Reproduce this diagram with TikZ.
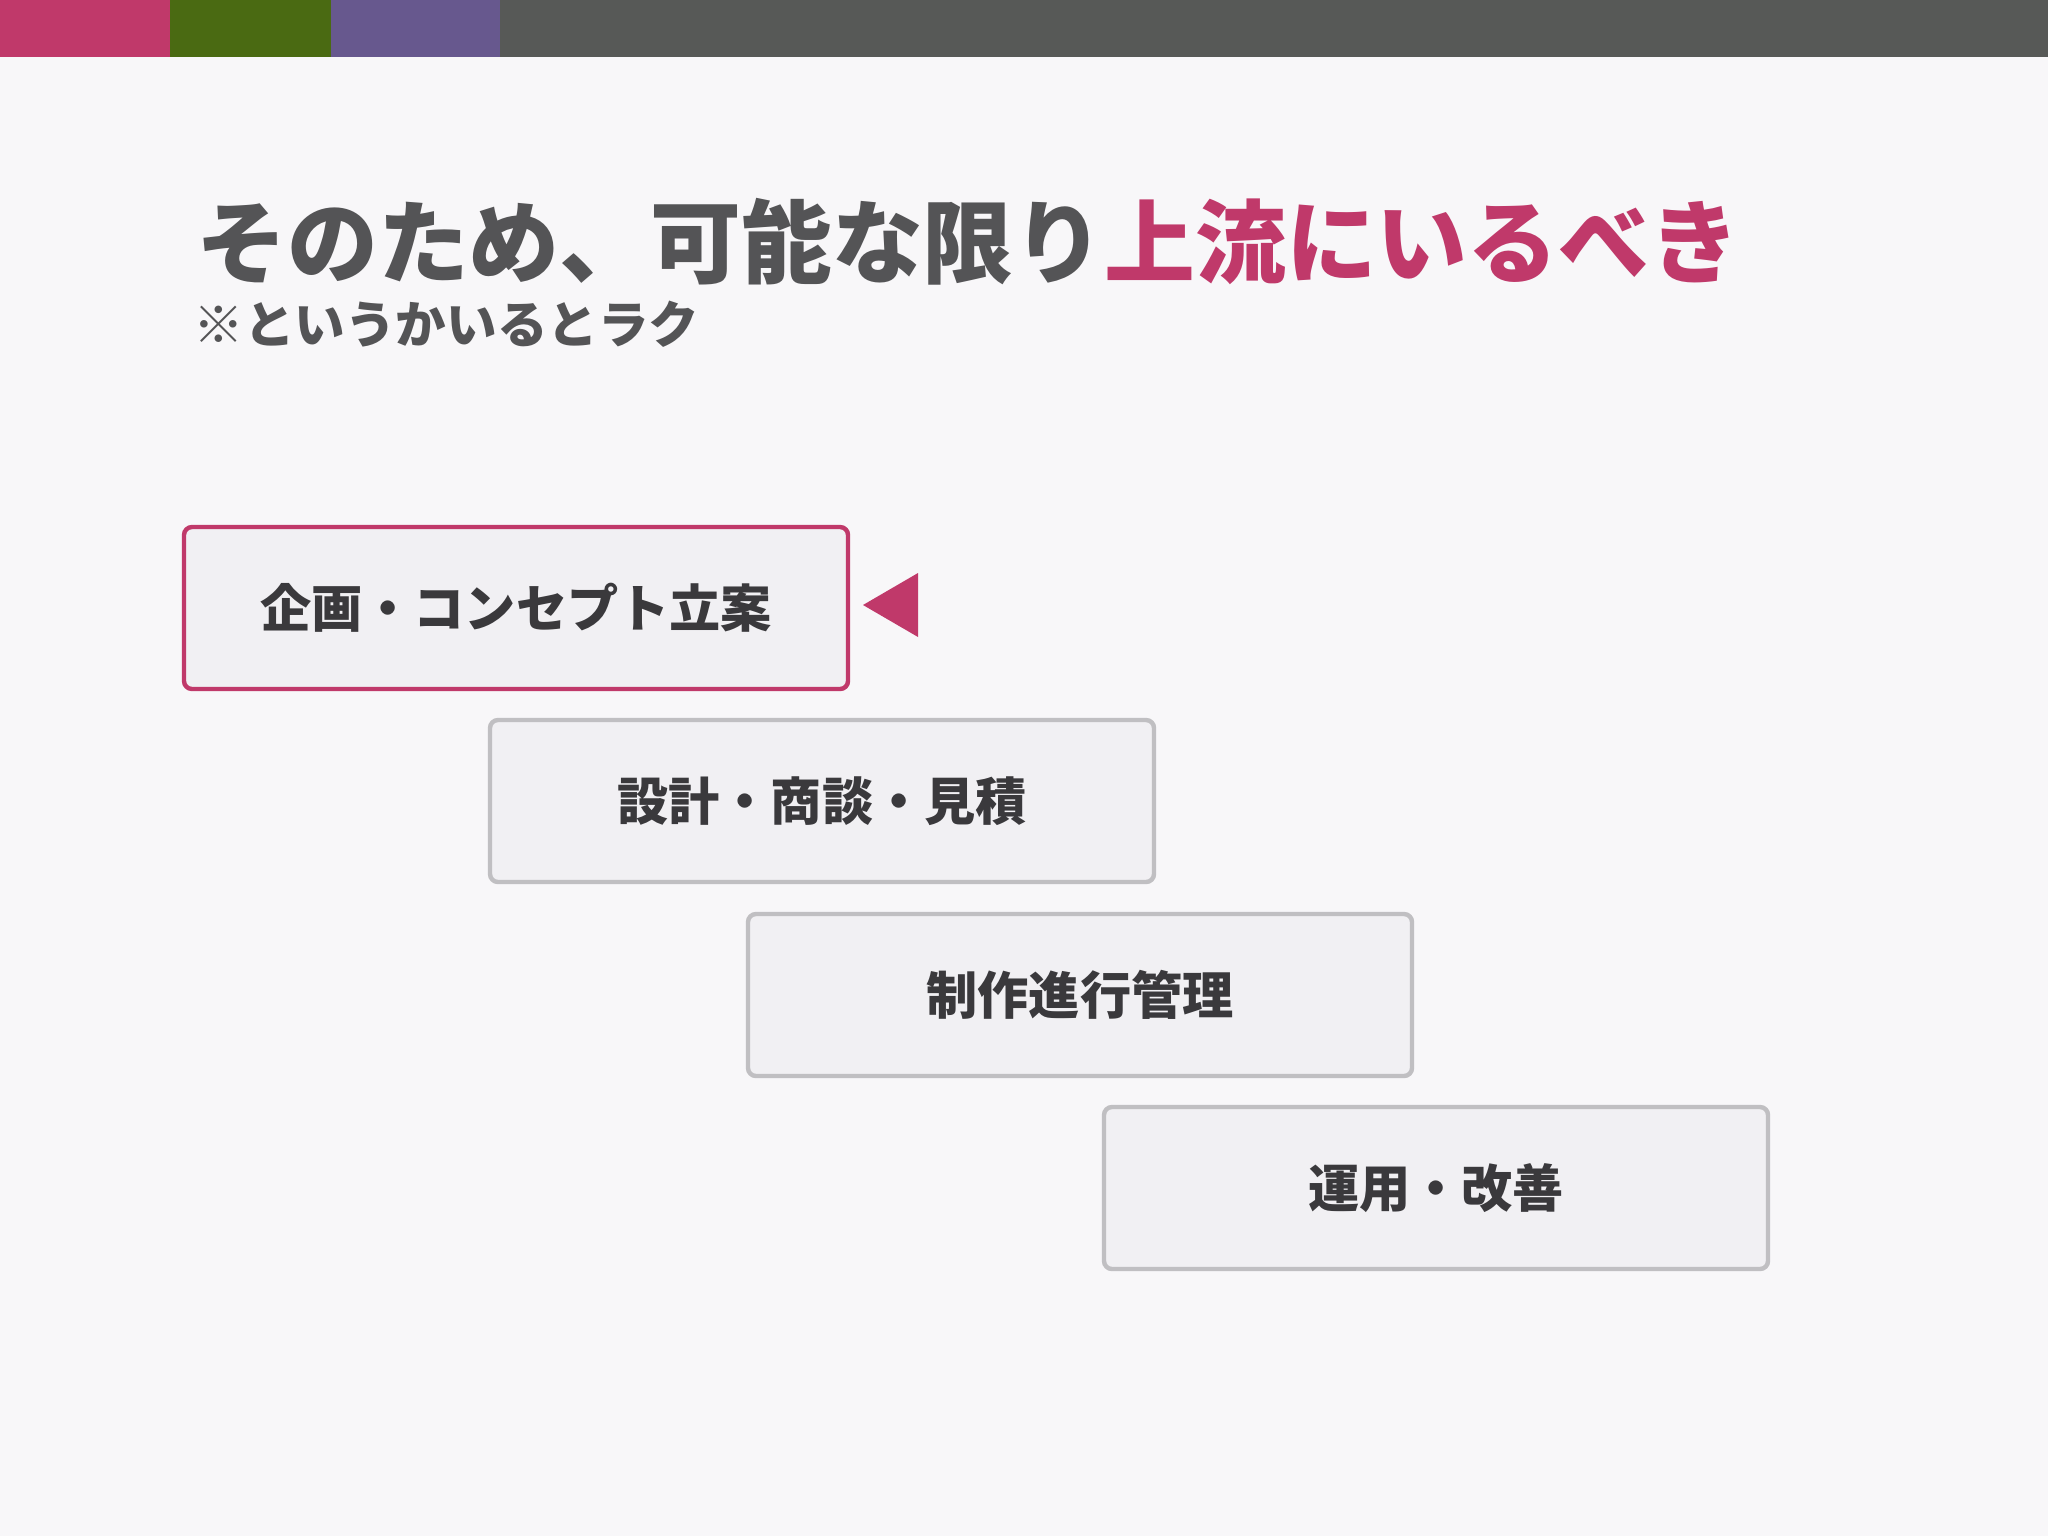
\documentclass[tikz,border=0pt]{standalone}
\usepackage{fontspec}
\setmainfont{Noto Sans CJK JP}
\definecolor{bg}{HTML}{F8F7F9}
\definecolor{accred}{HTML}{C0396A}
\definecolor{accgreen}{HTML}{4A6A12}
\definecolor{accpurple}{HTML}{67588E}
\definecolor{accgray}{HTML}{575957}
\definecolor{titlegray}{HTML}{545456}
\definecolor{boxfill}{HTML}{F1F0F3}
\definecolor{boxline}{HTML}{C0BFC2}
\definecolor{boxtext}{HTML}{3A393C}
\tikzset{
  stepbox/.style={draw=boxline, line width=2.2pt, fill=boxfill, rounded corners=4pt,
    minimum width=332pt, minimum height=81pt, inner sep=0pt,
    font=\fontsize{25.6}{30}\selectfont\bfseries, text=boxtext},
  activebox/.style={stepbox, draw=accred},
}
\begin{document}
\begin{tikzpicture}[x=0.5pt,y=-0.5pt]
\fill[bg] (0,0) rectangle (2048,1536);
\useasboundingbox (0,0) rectangle (2048,1536);
\fill[accred] (0,0) rectangle (170,57);
\fill[accgreen] (170,0) rectangle (331,57);
\fill[accpurple] (331,0) rectangle (500,57);
\fill[accgray] (500,0) rectangle (2048,57);
\node[anchor=west, inner sep=0pt, font=\fontsize{45.4}{54}\selectfont\bfseries, text=titlegray] (title) at (196,242)
  {そのため、可能な限り\textcolor{accred}{上流にいるべき}};
\node[anchor=west, inner sep=0pt, font=\fontsize{25.3}{30}\selectfont\bfseries, text=titlegray] (sub) at (193,324)
  {※というかいるとラク};
\node[activebox] (s1) at (516,608) {企画・コンセプト立案};
\node[stepbox] (s2) at (822,801) {設計・商談・見積};
\node[stepbox] (s3) at (1080,995) {制作進行管理};
\node[stepbox] (s4) at (1436,1188) {運用・改善};
\coordinate (tip) at (863,605);
\fill[accred] (tip) -- (918,573) -- (918,637) -- cycle;
\end{tikzpicture}
\end{document}
